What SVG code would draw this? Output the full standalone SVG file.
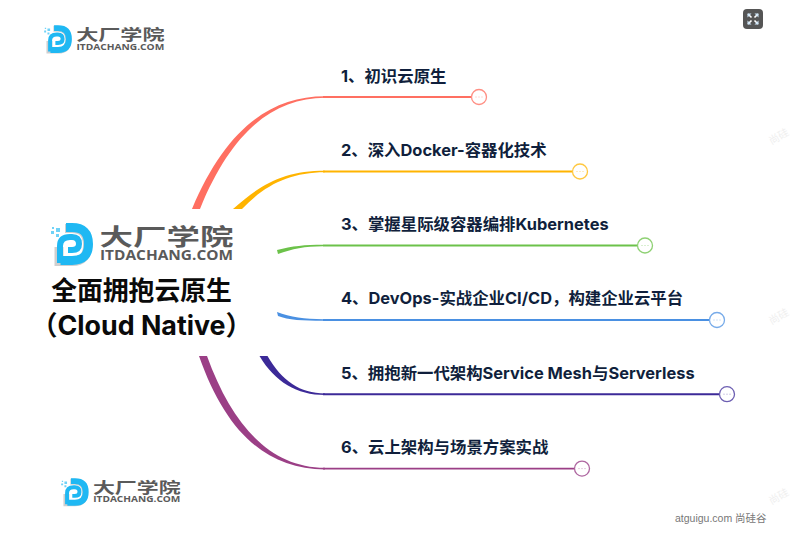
<svg xmlns="http://www.w3.org/2000/svg" width="790" height="545" viewBox="0 0 790 545">
<style>
.lbl{font:700 16.4px "Inter","Noto Sans CJK SC",sans-serif;fill:#101f3c}
.ttl{font:700 25.8px "Inter","Noto Sans CJK SC",sans-serif;fill:#0a0a0a}
.dot{fill:#fff;stroke-width:1.3}
.wm{font:10.5px "Noto Sans CJK SC",sans-serif;fill:#efefef}
.lg1{font:700 23px "Noto Sans CJK SC",sans-serif;fill:#5a5a5a}
.lg2{font:700 14px "Open Sans",sans-serif;fill:#5a5a5a}
</style>
<defs>
<g id="logo">
<path d="M15,6.5H22Q37.5,6.5 37.5,23Q37.5,39.5 22,39.5H9V25" fill="none" stroke="#cfcfcf" stroke-width="9"/>
<path d="M16,5.5H22Q38.5,5.5 38.5,22Q38.5,38.5 22,38.5H10.5" fill="none" stroke="#1fb8f3" stroke-width="9"/>
<path d="M10,41V24Q10,15 20,15H22Q29,15 29,22Q29,28 22,28H18" fill="none" stroke="#1fb8f3" stroke-width="6"/>
<path d="M6,6h4v4h-4zM1,9h3v3h-3zM6,12h3v3h-3zM2,5h2v2h-2z" fill="#6fd2f7"/>
<text class="lg1" x="49.5" y="23" textLength="134" lengthAdjust="spacingAndGlyphs">大厂学院</text>
<text class="lg2" x="50" y="38" textLength="133" lengthAdjust="spacingAndGlyphs">ITDACHANG.COM</text>
</g>
</defs>
<g id="logo-top"><use href="#logo" transform="translate(43.5,24.5) scale(.66)"/></g>
<g id="logo-bottom"><use href="#logo" transform="translate(60.5,477.5) scale(.655)"/></g>
<g id="connectors" fill="none" stroke-width="1.9">
<path fill="#ff6f61" d="M192,209C225,130 270,96.2 325,96.2L325,97.8C275,97.8 232,130 200,209Z"/>
<path stroke="#ff6f61" d="M323,97H472"/>
<path fill="#ffb400" d="M233,209C262,183 285,170.7 325,170.7L325,172.3C290,172.3 265,185 242,209Z"/>
<path stroke="#ffb400" d="M323,171.5H572"/>
<path fill="#6cc24a" d="M277,250C292,246 305,244.7 323,244.7L323,246.3C305,246.3 292,249 278,254Z"/>
<path stroke="#6cc24a" d="M323,245.5H637"/>
<path fill="#4a90e2" d="M277,312C290,317 305,319.2 323,319.2L323,320.8C303,320.8 288,320 278,316Z"/>
<path stroke="#4a90e2" d="M323,320H709"/>
<path fill="#3c2a98" d="M259.5,356C275,382 297,395 325,395L325,393.4C300,393.4 282,381 267.5,356Z"/>
<path stroke="#3c2a98" d="M323,394.2H719"/>
<path fill="#9b3f86" d="M199,356C225,430 265,469.4 325,469.4L325,467.8C270,467.8 232,425 207,356Z"/>
<path stroke="#9b3f86" d="M323,468.6H574"/>
</g>
<g id="root">
<use href="#logo" transform="translate(50,222)"/>
<text class="ttl" x="141.5" y="300" text-anchor="middle">全面拥抱云原生</text>
<text class="ttl" x="141.5" y="335" text-anchor="middle" style="font-size:26.8px">（Cloud Native）</text>
</g>
<g id="node-1"><text class="lbl" x="341" y="82">1、初识云原生</text><circle class="dot" cx="479" cy="97" r="7.5" stroke="#ff8f84"/><path d="M475.5,97h1M478.5,97h1M481.5,97h1" stroke="#ffb5ad"/></g>
<g id="node-2"><text class="lbl" x="341" y="156">2、深入Docker-容器化技术</text><circle class="dot" cx="580" cy="171.5" r="7.5" stroke="#ffc840"/><path d="M576.5,171.5h1M579.5,171.5h1M582.5,171.5h1" stroke="#ffd980"/></g>
<g id="node-3"><text class="lbl" x="341" y="230">3、掌握星际级容器编排Kubernetes</text><circle class="dot" cx="645" cy="245.5" r="7.5" stroke="#8fd174"/><path d="M641.5,245.5h1M644.5,245.5h1M647.5,245.5h1" stroke="#b5e0a4"/></g>
<g id="node-4"><text class="lbl" x="341" y="304">4、DevOps-实战企业CI/CD，构建企业云平台</text><circle class="dot" cx="717" cy="320" r="7.5" stroke="#77abe9"/><path d="M713.5,320h1M716.5,320h1M719.5,320h1" stroke="#a5c8f0"/></g>
<g id="node-5"><text class="lbl" x="341" y="379">5、拥抱新一代架构Service Mesh与Serverless</text><circle class="dot" cx="727" cy="394.2" r="7.5" stroke="#6d5fb2"/><path d="M723.5,394.2h1M726.5,394.2h1M729.5,394.2h1" stroke="#a49bd0"/></g>
<g id="node-6"><text class="lbl" x="341" y="453">6、云上架构与场景方案实战</text><circle class="dot" cx="582" cy="468.6" r="7.5" stroke="#ae66a0"/><path d="M578.5,468.6h1M581.5,468.6h1M584.5,468.6h1" stroke="#cd9fc3"/></g>
<g id="fullscreen">
<rect x="743" y="9" width="20" height="20" rx="4" fill="#555"/>
<path d="M748,14L751.5,17.5M758,14L754.5,17.5M748,24L751.5,20.5M758,24L754.5,20.5" stroke="#fff" stroke-width="1.6"/>
<path d="M747.5,13.5h4l-4,4zM758.5,13.5h-4l4,4zM747.5,24.5h4l-4,-4zM758.5,24.5h-4l4,-4z" fill="#cfe6f7"/>
</g>
<g id="watermarks">
<text class="wm" transform="translate(771.5,145) rotate(-30)">尚硅</text>
<text class="wm" transform="translate(771.5,325) rotate(-30)">尚硅</text>
<text class="wm" transform="translate(771.5,505) rotate(-30)">尚硅</text>
</g>
<text x="675" y="522" style="font:10.5px 'Liberation Sans','Noto Sans CJK SC',sans-serif;fill:#777">atguigu.com 尚硅谷</text>
</svg>
